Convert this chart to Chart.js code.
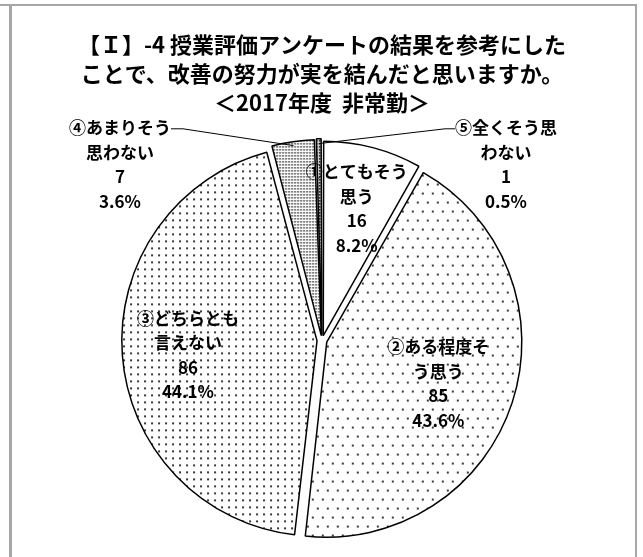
<!DOCTYPE html>
<html>
<head>
<meta charset="utf-8">
<script src="https://cdn.jsdelivr.net/npm/chart.js@4/dist/chart.umd.min.js"></script>
<style>
  html, body { margin: 0; padding: 0; background: #ffffff; }
  canvas { display: block; }
</style>
</head>
<body>
<canvas id="c" width="643" height="557"></canvas>
<script>
// ---- data ----
const titleLines = [
  '【Ｉ】-4 授業評価アンケートの結果を参考にした',
  'ことで、改善の努力が実を結んだと思いますか。',
  '＜2017年度  非常勤＞'
];
const categories = ['とてもそう思う', 'ある程度そう思う', 'どちらとも言えない', 'あまりそう思わない', '全くそう思わない'];
const labelLines = [
  ['①とてもそう', '思う'],
  ['②ある程度そ', 'う思う'],
  ['③どちらとも', '言えない'],
  ['④あまりそう', '思わない'],
  ['⑤全くそう思', 'わない']
];
const counts = [16, 85, 86, 7, 1];
const percents = ['8.2%', '43.6%', '44.1%', '3.6%', '0.5%'];

// ---- patterns ----
function makePattern(w, h, bg, dot, dots, dsz) {
  const c = document.createElement('canvas');
  c.width = w; c.height = h;
  const g = c.getContext('2d');
  g.fillStyle = bg; g.fillRect(0, 0, w, h);
  g.fillStyle = dot;
  dots.forEach(p => g.fillRect(p[0], p[1], dsz, dsz));
  return g.createPattern(c, 'repeat');
}
const ctx0 = document.getElementById('c').getContext('2d');
const fills = [
  '#ffffff',
  makePattern(10, 18, '#ffffff', '#3a3a3a', [[2, 2], [7, 11]], 2),
  makePattern(7, 7, '#ffffff', '#3a3a3a', [[2, 2]], 2),
  makePattern(3, 3, '#ffffff', '#444444', [[1, 1]], 1.6),
  makePattern(3, 3, '#cfcfcf', '#222222', [[1, 1]], 1.6)
];

const FONT = '"Noto Sans CJK JP", "Noto Sans", sans-serif';

// inside label placement (fraction of radius along mid angle, plus small nudge)
const insideFactor = [0.71, 0.67, 0.70];
const insideNudge = [[0, 0], [-6, 3], [0, 5]];
// outside label block offsets from centre (px)
const outsidePos = { 3: [-202, -176], 4: [184, -176] };

const framePlugin = {
  id: 'frame',
  beforeDraw(chart) {
    const g = chart.ctx;
    g.save();
    g.fillStyle = '#ffffff';
    g.fillRect(0, 0, chart.width, chart.height);
    g.strokeStyle = '#a6a6a6';
    g.lineWidth = 2;
    g.beginPath(); g.moveTo(0, 5); g.lineTo(637, 5); g.stroke();
    g.lineWidth = 3;
    g.beginPath(); g.moveTo(10.5, 5); g.lineTo(10.5, chart.height); g.stroke();
    g.lineWidth = 2;
    g.beginPath(); g.moveTo(636, 5); g.lineTo(636, chart.height); g.stroke();
    g.restore();
  }
};

const labelPlugin = {
  id: 'sliceLabels',
  afterDatasetsDraw(chart) {
    const g = chart.ctx;
    const meta = chart.getDatasetMeta(0);
    g.save();
    g.fillStyle = '#000000';
    g.textAlign = 'center';
    g.textBaseline = 'middle';
    g.font = 'bold 17px ' + FONT;
    const lh = 24.5;
    meta.data.forEach((arc, i) => {
      const p = arc.getProps(['x', 'y', 'startAngle', 'endAngle', 'outerRadius'], true);
      const mid = (p.startAngle + p.endAngle) / 2;
      const lines = labelLines[i].concat([String(counts[i]), percents[i]]);
      let cx, cy;
      if (i < 3) {
        const r = p.outerRadius * insideFactor[i];
        cx = p.x + Math.cos(mid) * r + insideNudge[i][0];
        cy = p.y + Math.sin(mid) * r + insideNudge[i][1];
      } else {
        cx = p.x + outsidePos[i][0];
        cy = p.y + outsidePos[i][1];
        // leader line
        const off = 5;
        const ex = p.x + Math.cos(mid) * (p.outerRadius + off);
        const ey = p.y + Math.sin(mid) * (p.outerRadius + off);
        const ly = cy - 1.5 * lh + 1;
        const half = g.measureText(lines[0]).width / 2;
        g.save();
        g.strokeStyle = '#000000';
        g.lineWidth = 1;
        g.beginPath();
        if (i === 3) {
          g.moveTo(cx + half, ly); g.lineTo(cx + half + 12, ly);
        } else {
          g.moveTo(cx - half, ly); g.lineTo(cx - half - 10, ly);
        }
        g.lineTo(ex, ey);
        g.stroke();
        g.restore();
      }
      const top = cy - (lines.length - 1) * lh / 2;
      lines.forEach((t, k) => g.fillText(t, cx, top + k * lh));
    });
    g.restore();
  }
};

new Chart(ctx0, {
  type: 'pie',
  data: {
    labels: categories,
    datasets: [{
      data: counts,
      backgroundColor: fills,
      borderColor: '#000000',
      borderWidth: 1.5,
      offset: 20,
      hoverOffset: 0
    }]
  },
  options: {
    responsive: false,
    animation: false,
    devicePixelRatio: 1,
    radius: 192,
    layout: { padding: { left: 1, right: 0, top: 0, bottom: 3 } },
    events: [],
    plugins: {
      legend: { display: false },
      tooltip: { enabled: false },
      title: {
        display: true,
        text: titleLines,
        color: '#000000',
        font: { family: FONT, size: 22, weight: 'bold', lineHeight: 1.32 },
        padding: { top: 30, bottom: 10 }
      }
    }
  },
  plugins: [framePlugin, labelPlugin]
});
</script>
</body>
</html>
